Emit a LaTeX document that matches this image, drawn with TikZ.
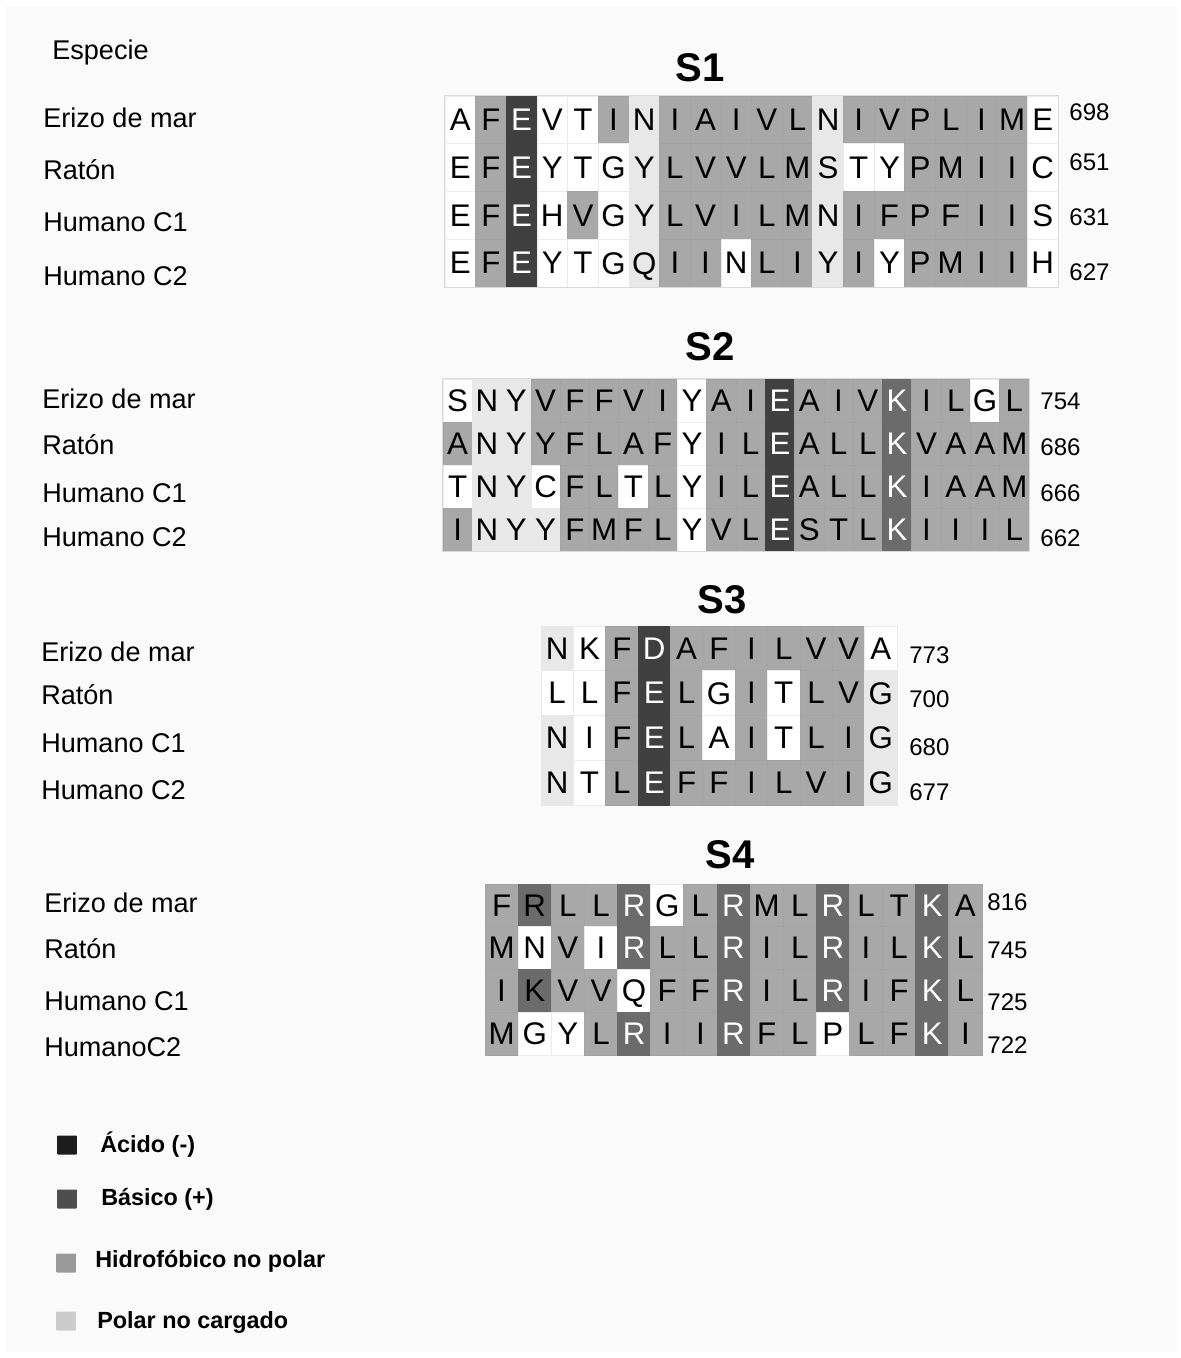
\documentclass[tikz,border=0pt]{standalone}
\usepackage{fontspec}
\setmainfont{Liberation Sans}

\definecolor{panel}{HTML}{FAFAFA}
\definecolor{hydro}{HTML}{A8A8A8}
\definecolor{polar}{HTML}{E8E8E8}
\definecolor{acid}{HTML}{404040}
\definecolor{basic}{HTML}{6B6B6B}
\definecolor{acidkey}{HTML}{1C1C1C}
\definecolor{basickey}{HTML}{4E4E4E}
\definecolor{hydrokey}{HTML}{9A9A9A}
\definecolor{polarkey}{HTML}{CCCCCC}

\begin{document}
\begin{tikzpicture}[
    x=0.02cm,
    y=-0.02cm,
    cell/.style={
        inner sep=0pt,
        line width=0.4pt,
        text depth=0pt,
        font=\fontsize{17.8}{20}\selectfont
    },
    wt/.style={fill=white, draw=black!8},
    lt/.style={fill=polar, draw=polar},
    hy/.style={fill=hydro, draw=black!36},
    ac/.style={fill=acid, draw=acid, text=white},
    bs/.style={fill=basic, draw=basic, text=white},
    bsd/.style={fill=basic, draw=basic},
    frame/.style={draw=black!15, line width=0.8pt},
    species/.style={anchor=base west, inner sep=0pt, font=\fontsize{15.4}{18}\selectfont},
    num/.style={anchor=west, inner sep=0pt, font=\fontsize{13.7}{16}\selectfont},
    title/.style={inner sep=0pt, font=\fontsize{22.8}{26}\selectfont\bfseries},
    key/.style={minimum width=0.4cm, minimum height=0.38cm, inner sep=0pt, rounded corners=0.5pt},
    keytext/.style={anchor=base west, inner sep=0pt, font=\fontsize{13.3}{16}\selectfont\bfseries}
]
    \useasboundingbox (0,0) rectangle (1180,1358);
    \fill[white] (0,0) rectangle (1180,1358);
    \fill[panel] (6,6) rectangle (1177,1352);

    \node[species] (hdr) at (52,60) {Especie};

    % S1
    \node[title] (t1) at (700,68) {S1};
    \node[species] (sp1-1) at (43,128) {Erizo de mar};
    \node[species] (sp1-2) at (43,180) {Ratón};
    \node[species] (sp1-3) at (43,232) {Humano C1};
    \node[species] (sp1-4) at (43,286) {Humano C2};
    \begin{scope}[cell/.append style={minimum width=6.13mm, minimum height=9.55mm}]
    \foreach \seq [count=\r] in {
        {wt/A,hy/F,ac/E,wt/V,wt/T,hy/I,lt/N,hy/I,hy/A,hy/I,hy/V,hy/L,lt/N,hy/I,hy/V,hy/P,hy/L,hy/I,hy/M,wt/E},
        {wt/E,hy/F,ac/E,wt/Y,wt/T,wt/G,lt/Y,hy/L,hy/V,hy/V,hy/L,hy/M,lt/S,wt/T,wt/Y,hy/P,hy/M,hy/I,hy/I,wt/C},
        {wt/E,hy/F,ac/E,wt/H,hy/V,wt/G,lt/Y,hy/L,hy/V,hy/I,hy/L,hy/M,lt/N,hy/I,hy/F,hy/P,hy/F,hy/I,hy/I,wt/S},
        {wt/E,hy/F,ac/E,wt/Y,wt/T,wt/G,lt/Q,hy/I,hy/I,wt/N,hy/L,hy/I,lt/Y,hy/I,wt/Y,hy/P,hy/M,hy/I,hy/I,wt/H}} {
        \foreach \kind/\res [count=\c] in \seq
            \node[cell, \kind] (s1-\r-\c) at ({445+(\c-0.5)*30.65}, {96+(\r-0.5)*47.75}) {\res};
    }
    \end{scope}
    \draw[frame] (s1-1-1.north west) rectangle (s1-4-20.south east);
    \node[num] (n1-1) at (1069,112) {698};
    \node[num] (n1-2) at (1069,162) {651};
    \node[num] (n1-3) at (1069,217) {631};
    \node[num] (n1-4) at (1069,272) {627};

    % S2
    \node[title] (t2) at (710,347) {S2};
    \node[species] (sp2-1) at (42,408) {Erizo de mar};
    \node[species] (sp2-2) at (42,454) {Ratón};
    \node[species] (sp2-3) at (42,502) {Humano C1};
    \node[species] (sp2-4) at (42,546) {Humano C2};
    \begin{scope}[cell/.append style={minimum width=5.86mm, minimum height=8.6mm}]
    \foreach \seq [count=\r] in {
        {wt/S,lt/N,lt/Y,hy/V,hy/F,hy/F,hy/V,hy/I,wt/Y,hy/A,hy/I,ac/E,hy/A,hy/I,hy/V,bs/K,hy/I,hy/L,wt/G,hy/L},
        {hy/A,lt/N,lt/Y,hy/Y,hy/F,hy/L,hy/A,hy/F,wt/Y,hy/I,hy/L,ac/E,hy/A,hy/L,hy/L,bs/K,hy/V,hy/A,hy/A,hy/M},
        {wt/T,lt/N,lt/Y,wt/C,hy/F,hy/L,wt/T,hy/L,wt/Y,hy/I,hy/L,ac/E,hy/A,hy/L,hy/L,bs/K,hy/I,hy/A,hy/A,hy/M},
        {hy/I,lt/N,lt/Y,lt/Y,hy/F,hy/M,hy/F,hy/L,wt/Y,hy/V,hy/L,ac/E,hy/S,hy/T,hy/L,bs/K,hy/I,hy/I,hy/I,hy/L}} {
        \foreach \kind/\res [count=\c] in \seq
            \node[cell, \kind] (s2-\r-\c) at ({443+(\c-0.5)*29.3}, {379+(\r-0.5)*43}) {\res};
    }
    \end{scope}
    \draw[frame] (s2-1-1.north west) rectangle (s2-4-20.south east);
    \node[num] (n2-1) at (1040,401) {754};
    \node[num] (n2-2) at (1040,447) {686};
    \node[num] (n2-3) at (1040,493) {666};
    \node[num] (n2-4) at (1040,538) {662};

    % S3
    \node[title] (t3) at (722,600) {S3};
    \node[species] (sp3-1) at (41,661) {Erizo de mar};
    \node[species] (sp3-2) at (41,704) {Ratón};
    \node[species] (sp3-3) at (41,752) {Humano C1};
    \node[species] (sp3-4) at (41,799) {Humano C2};
    \begin{scope}[cell/.append style={minimum width=6.47mm, minimum height=8.95mm}]
    \foreach \seq [count=\r] in {
        {lt/N,wt/K,hy/F,ac/D,hy/A,hy/F,hy/I,hy/L,hy/V,hy/V,wt/A},
        {wt/L,wt/L,hy/F,ac/E,hy/L,wt/G,hy/I,wt/T,hy/L,hy/V,lt/G},
        {lt/N,wt/I,hy/F,ac/E,hy/L,wt/A,hy/I,wt/T,hy/L,hy/I,lt/G},
        {lt/N,wt/T,hy/L,ac/E,hy/F,hy/F,hy/I,hy/L,hy/V,hy/I,lt/G}} {
        \foreach \kind/\res [count=\c] in \seq
            \node[cell, \kind] (s3-\r-\c) at ({541+(\c-0.5)*32.36}, {626+(\r-0.5)*44.75}) {\res};
    }
    \end{scope}
    \node[num] (n3-1) at (909,655) {773};
    \node[num] (n3-2) at (909,699) {700};
    \node[num] (n3-3) at (909,747) {680};
    \node[num] (n3-4) at (909,792) {677};

    % S4
    \node[title] (t4) at (730,855) {S4};
    \node[species] (sp4-1) at (44,912) {Erizo de mar};
    \node[species] (sp4-2) at (44,958) {Ratón};
    \node[species] (sp4-3) at (44,1010) {Humano C1};
    \node[species] (sp4-4) at (44,1056) {HumanoC2};
    \begin{scope}[cell/.append style={minimum width=6.63mm, minimum height=8.55mm}]
    \foreach \seq [count=\r] in {
        {hy/F,bsd/R,hy/L,hy/L,bs/R,wt/G,hy/L,bs/R,hy/M,hy/L,bs/R,hy/L,hy/T,bs/K,hy/A},
        {hy/M,wt/N,hy/V,wt/I,bs/R,hy/L,hy/L,bs/R,hy/I,hy/L,bs/R,hy/I,hy/L,bs/K,hy/L},
        {hy/I,bsd/K,hy/V,hy/V,wt/Q,hy/F,hy/F,bs/R,hy/I,hy/L,bs/R,hy/I,hy/F,bs/K,hy/L},
        {hy/M,wt/G,wt/Y,hy/L,bs/R,hy/I,hy/I,bs/R,hy/F,hy/L,wt/P,hy/L,hy/F,bs/K,hy/I}} {
        \foreach \kind/\res [count=\c] in \seq
            \node[cell, \kind] (s4-\r-\c) at ({485+(\c-0.5)*33.13}, {884+(\r-0.5)*42.75}) {\res};
    }
    \end{scope}
    \node[num] (n4-1) at (987,902) {816};
    \node[num] (n4-2) at (987,950) {745};
    \node[num] (n4-3) at (987,1002) {725};
    \node[num] (n4-4) at (987,1045) {722};

    % legend
    \node[key, fill=acidkey] (k1) at (67,1145) {};
    \node[key, fill=basickey] (k2) at (67,1199) {};
    \node[key, fill=hydrokey] (k3) at (66,1263) {};
    \node[key, fill=polarkey] (k4) at (66,1321) {};
    \node[keytext] (kt1) at (100,1152) {Ácido (-)};
    \node[keytext] (kt2) at (101,1205) {Básico (+)};
    \node[keytext] (kt3) at (95,1267) {Hidrofóbico no polar};
    \node[keytext] (kt4) at (97,1328) {Polar no cargado};
\end{tikzpicture}
\end{document}
